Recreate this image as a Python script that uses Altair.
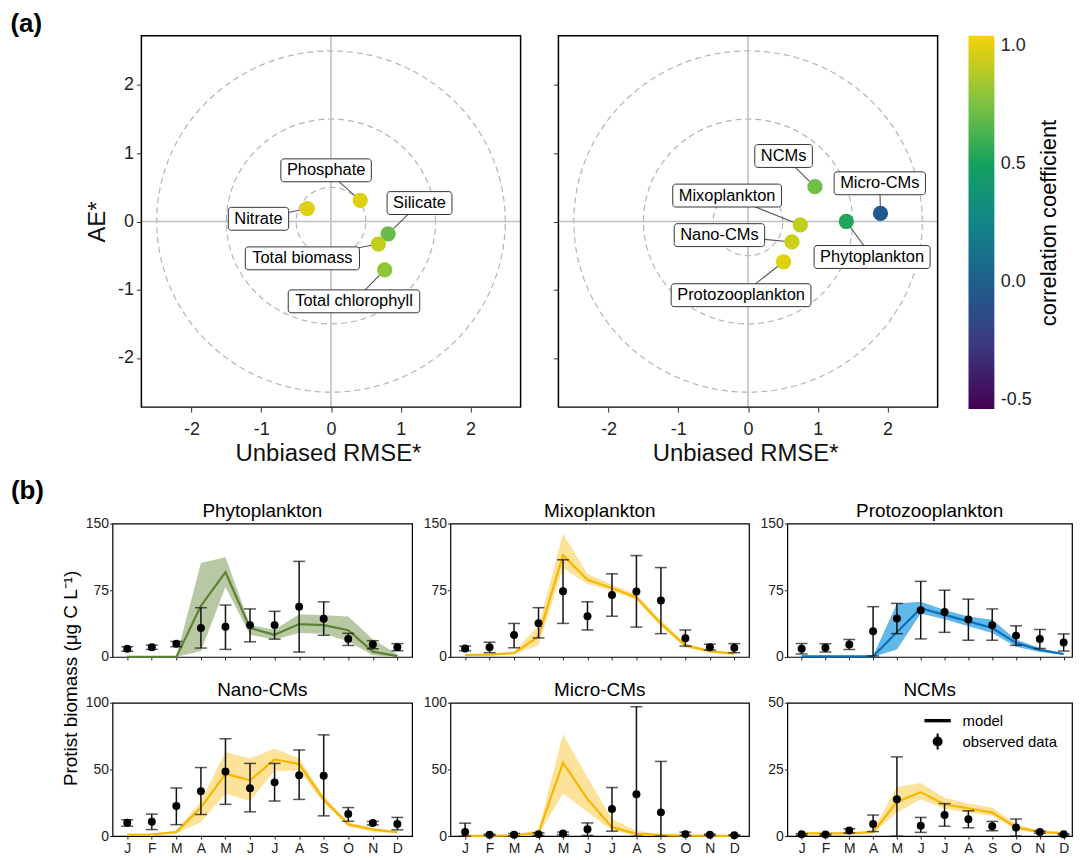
import altair as alt
import numpy as np
import pandas as pd

FONT = "Liberation Sans"

# ------------------------------------------------------------------ (a) data
a_left_names = ["Nitrate", "Phosphate", "Silicate", "Total biomass", "Total chlorophyll"]
a_left_rmse = [-0.34, 0.42, 0.82, 0.68, 0.77]
a_left_ae = [0.19, 0.31, -0.18, -0.33, -0.71]
a_left_corr = [0.99, 0.99, 0.70, 0.92, 0.80]
a_left_lab_x = [-1.04, -0.07, 1.27, -0.41, 0.33]
a_left_lab_y = [0.04, 0.75, 0.27, -0.54, -1.17]

a_right_names = ["NCMs", "Micro-CMs", "Mixoplankton", "Phytoplankton", "Nano-CMs", "Protozooplankton"]
a_right_rmse = [0.96, 1.90, 0.75, 1.41, 0.63, 0.51]
a_right_ae = [0.51, 0.12, -0.05, 0.00, -0.30, -0.59]
a_right_corr = [0.72, -0.05, 0.92, 0.52, 0.94, 0.99]
a_right_lab_x = [0.51, 1.89, -0.30, 1.78, -0.41, -0.10]
a_right_lab_y = [0.96, 0.56, 0.38, -0.52, -0.20, -1.08]

ring_radii = [0.5, 1.5, 2.5]
a_ticks = [-2, -1, 0, 1, 2]
corr_ticks = [-0.5, 0.0, 0.5, 1.0]
corr_stops = [-0.54, -0.25, 0.0, 0.25, 0.5, 0.75, 1.04]
corr_colors = ["#440154", "#3a3c80", "#1e5f8c", "#118589", "#14a25f", "#7cc242", "#f6d208"]

# ------------------------------------------------------------------ (b) data
months = ["J", "F", "M", "A", "M", "J", "J", "A", "S", "O", "N", "D"]
month_num = list(range(1, 13))

phyto_obs = [9.2, 11.0, 14.8, 32.5, 34.0, 35.8, 35.8, 56.5, 42.9, 20.3, 14.0, 11.0]
phyto_hi = [11.4, 13.3, 17.4, 55.4, 58.4, 54.0, 51.3, 107.5, 62.0, 26.6, 18.3, 15.0]
phyto_lo = [6.3, 8.5, 11.5, 10.0, 8.5, 17.0, 20.0, 5.5, 24.4, 12.9, 9.2, 7.0]
phyto_mod = [0, 0, 0, 57.6, 95.3, 32.5, 25.0, 37.0, 35.8, 30.0, 6.0, 1.0]
phyto_mhi = [0, 0, 0, 105.6, 112.0, 36.0, 30.7, 48.0, 47.0, 45.4, 20.0, 3.0]
phyto_mlo = [0, 0, 0, 6.6, 78.7, 25.0, 19.6, 27.0, 26.0, 17.7, 2.0, 0]

mixo_obs = [9.6, 11.0, 24.8, 38.0, 73.9, 45.8, 69.8, 73.5, 63.5, 21.0, 11.0, 10.3]
mixo_hi = [12.2, 16.6, 37.7, 55.4, 109.3, 62.0, 93.5, 114.0, 100.5, 30.3, 14.4, 15.0]
mixo_lo = [7.0, 4.8, 10.3, 21.4, 37.7, 30.3, 45.8, 33.6, 26.2, 12.2, 7.8, 4.8]
mixo_mod = [2.2, 2.6, 4.4, 23.0, 114.5, 86.8, 77.6, 66.9, 37.3, 13.0, 6.3, 3.7]
mixo_mhi = [3.0, 3.5, 6.0, 35.0, 138.5, 93.5, 81.6, 70.2, 41.7, 15.1, 8.0, 4.5]
mixo_mlo = [1.5, 2.0, 3.0, 13.0, 100.0, 82.4, 74.3, 64.0, 34.4, 10.7, 5.0, 3.0]

proto_obs = [9.2, 10.3, 14.0, 28.8, 43.2, 52.5, 50.6, 42.1, 35.8, 24.0, 20.3, 16.3]
proto_hi = [15.1, 14.8, 19.6, 56.5, 60.2, 85.0, 75.0, 65.0, 54.0, 35.0, 31.0, 25.9]
proto_lo = [3.3, 5.5, 8.5, 1.1, 26.2, 20.3, 27.7, 18.8, 18.8, 13.0, 9.6, 6.6]
proto_mod = [0.7, 0.7, 0.7, 0.7, 27.7, 54.7, 47.3, 40.0, 32.5, 15.9, 7.8, 3.3]
proto_mhi = [1.0, 1.0, 1.0, 1.0, 60.2, 62.0, 52.8, 45.4, 41.7, 19.6, 10.0, 4.0]
proto_mlo = [0.3, 0.3, 0.3, 0.3, 8.5, 49.0, 42.5, 34.4, 27.0, 11.5, 5.5, 2.5]

nano_obs = [10.0, 10.8, 22.6, 33.7, 48.4, 35.9, 40.3, 45.7, 45.2, 16.5, 9.8, 9.1]
nano_hi = [12.3, 16.5, 36.1, 51.4, 73.0, 54.5, 54.5, 64.6, 75.9, 21.4, 11.0, 14.0]
nano_lo = [7.4, 4.9, 8.6, 16.2, 23.8, 18.2, 26.3, 27.5, 15.2, 11.1, 8.4, 4.7]
nano_mod = [1.0, 1.2, 3.0, 21.4, 46.7, 41.8, 57.5, 54.0, 27.5, 8.8, 5.0, 3.0]
nano_mhi = [1.5, 2.0, 4.0, 26.3, 63.0, 58.2, 65.6, 58.2, 30.0, 10.3, 6.0, 3.5]
nano_mlo = [0.5, 0.5, 2.0, 10.3, 32.0, 26.3, 49.0, 49.0, 25.0, 7.4, 3.0, 2.0]

micro_obs = [3.0, 1.0, 1.0, 1.5, 2.0, 5.2, 20.3, 31.4, 17.8, 1.5, 1.0, 0.7]
micro_hi = [9.7, 1.5, 2.0, 2.5, 3.0, 9.9, 36.4, 97.0, 56.0, 3.0, 1.5, 1.0]
micro_lo = [0.0, 0.5, 0.0, 0.5, 1.0, 0.5, 3.7, 0.0, 0.0, 0.5, 0.5, 0.3]
micro_mod = [0.2, 0.2, 0.5, 2.5, 55.0, 27.7, 6.7, 1.7, 0.7, 0.3, 0.2, 0.2]
micro_mhi = [0.3, 0.3, 1.0, 4.5, 76.5, 44.0, 12.9, 4.0, 1.5, 0.5, 0.3, 0.3]
micro_mlo = [0.1, 0.1, 0.2, 1.0, 32.0, 18.0, 4.2, 0.5, 0.2, 0.1, 0.1, 0.1]

ncm_obs = [0.7, 0.6, 2.1, 4.5, 13.8, 3.9, 7.9, 6.3, 3.7, 3.2, 1.5, 0.7]
ncm_hi = [0.9, 0.8, 2.8, 7.9, 29.7, 7.0, 12.2, 9.5, 5.5, 6.4, 1.9, 0.9]
ncm_lo = [0.3, 0.3, 1.2, 1.7, 0.0, 1.4, 3.7, 3.1, 2.0, 0.0, 1.1, 0.4]
ncm_mod = [1.0, 1.0, 1.0, 1.5, 12.8, 16.5, 11.9, 10.4, 8.8, 3.3, 1.5, 1.1]
ncm_mhi = [1.2, 1.2, 1.2, 2.2, 18.4, 19.9, 14.4, 12.2, 10.7, 4.5, 2.0, 1.5]
ncm_mlo = [0.8, 0.8, 0.8, 1.2, 8.8, 13.8, 10.3, 8.8, 7.6, 2.3, 1.2, 0.9]

legend_kinds = ["model", "observed data"]

# ------------------------------------------------------------------ helpers
ARIAL = {"a": 556, "b": 556, "c": 500, "d": 556, "e": 556, "f": 278, "h": 556, "i": 222,
         "k": 500, "l": 222, "m": 833, "n": 556, "o": 556, "p": 556, "r": 333, "s": 500,
         "t": 278, "x": 500, "y": 500, "z": 500, " ": 278, "-": 333, "C": 722, "M": 833,
         "N": 722, "P": 667, "S": 667, "T": 611}


def text_px(s, fs):
    return sum(ARIAL.get(ch, 556) for ch in s) / 1000.0 * fs


A_W, A_H = 381, 373
A_DOM = [-2.72, 2.72]
PXU_X = A_W / (A_DOM[1] - A_DOM[0])
PXU_Y = A_H / (A_DOM[1] - A_DOM[0])
LAB_FS = 16.5
LEFT_SHIFT = 29   # extra room so that the (a) frames sit right of the (b) frames

ring_rows = []
for r in ring_radii:
    for k, t in enumerate(np.linspace(0, 2 * np.pi, 241)):
        ring_rows.append({"ring": r, "k": k, "x": r * np.cos(t), "y": r * np.sin(t)})
ring_df = pd.DataFrame(ring_rows)
frame_df = pd.DataFrame({"x1": [A_DOM[0]], "x2": [A_DOM[1]], "y1": [A_DOM[0]], "y2": [A_DOM[1]]})

cscale = alt.Scale(domain=corr_stops, range=corr_colors, zero=False, nice=False)


def make_a(names, xs, ys, cs, lxs, lys, first):
    ext = LEFT_SHIFT if first else 0
    df = pd.DataFrame(dict(name=names, x=xs, y=ys, r=cs, lx=lxs, ly=lys))
    hw = np.array([(text_px(n, LAB_FS) / 2 + 6) / PXU_X for n in names])
    hh = 11.5 / PXU_Y
    df["bx1"] = df.lx - hw
    df["bx2"] = df.lx + hw
    df["by1"] = df.ly - hh
    df["by2"] = df.ly + hh
    xsc = alt.Scale(domain=[A_DOM[0] - ext / PXU_X, A_DOM[1]], nice=False, zero=False)
    ysc = alt.Scale(domain=A_DOM, nice=False, zero=False)
    xax = alt.Axis(values=a_ticks, labelExpr="datum.value", title="Unbiased RMSE*",
                   labelFontSize=18, titleFontSize=24, tickSize=5, labelPadding=9,
                   titlePadding=3, labelFlush=False, grid=False, domain=False,
                   titleX=ext + A_W / 2 - 3,
                   labelColor="#222", tickColor="#333", titleColor="#111", titleFontWeight="normal")
    if first:
        yax = alt.Axis(values=a_ticks, labelExpr="datum.value", title="AE*", labelFontSize=18,
                       titleFontSize=24, tickSize=5, labelPadding=3, titlePadding=8,
                       labelFlush=False, grid=False, domain=False, labelColor="#222",
                       tickColor="#333", titleColor="#111", titleFontWeight="normal",
                       offset=-ext)
    else:
        yax = alt.Axis(values=a_ticks, labels=False, title=None, tickSize=5, grid=False,
                       domain=False, tickColor="#333")

    def X(f):
        return alt.X(f"{f}:Q", scale=xsc, axis=xax)

    def Y(f):
        return alt.Y(f"{f}:Q", scale=ysc, axis=yax)

    rings = alt.Chart(ring_df).mark_line(strokeDash=[6, 4], color="#b4b4b4", strokeWidth=1.2).encode(
        x=X("x"), y=Y("y"), detail="ring:N", order="k:Q")
    zero_df = pd.DataFrame({"v": [0]})
    vline = alt.Chart(zero_df).mark_rule(color="#c0c0c0", strokeWidth=1.6).encode(x=X("v"))
    hline = alt.Chart(frame_df.assign(v=0)).mark_rule(color="#c0c0c0", strokeWidth=1.6).encode(
        y=Y("v"), x=X("x1"), x2="x2:Q")
    frame = alt.Chart(frame_df).mark_rect(fillOpacity=0, stroke="black", strokeWidth=1.5).encode(
        x=X("x1"), x2="x2:Q", y=Y("y1"), y2="y2:Q")
    base = alt.Chart(df)
    seg = base.mark_rule(color="#555", strokeWidth=1.1).encode(
        x=X("x"), y=Y("y"), x2="lx:Q", y2="ly:Q")
    pts = base.mark_circle(size=235, opacity=1).encode(
        x=X("x"), y=Y("y"), color=alt.Color("r:Q", scale=cscale, legend=None))
    boxes = base.mark_rect(fill="white", stroke="#333", strokeWidth=1, cornerRadius=3).encode(
        x=X("bx1"), x2="bx2:Q", y=Y("by1"), y2="by2:Q")
    texts = base.mark_text(fontSize=LAB_FS, font=FONT, color="black").encode(
        x=X("lx"), y=Y("ly"), text="name:N")
    return alt.layer(rings, vline, hline, seg, pts, boxes, texts, frame).properties(
        width=A_W + ext, height=A_H, view=alt.ViewBackground(stroke="transparent"))


left_a = make_a(a_left_names, a_left_rmse, a_left_ae, a_left_corr, a_left_lab_x, a_left_lab_y, True)
right_a = make_a(a_right_names, a_right_rmse, a_right_ae, a_right_corr, a_right_lab_x, a_right_lab_y, False)

# colour bar drawn as a gradient-filled rect on its own scale
c_lo, c_hi = corr_stops[0], corr_stops[-1]
cbar_df = pd.DataFrame({"lo": [c_lo], "hi": [c_hi]})
cgrad = alt.Gradient(
    gradient="linear", x1=0, x2=0, y1=1, y2=0,
    stops=[alt.GradientStop(offset=(s - c_lo) / (c_hi - c_lo), color=c)
           for s, c in zip(corr_stops, corr_colors)])
cbar = alt.Chart(cbar_df).mark_rect(color=cgrad).encode(
    y=alt.Y("lo:Q", scale=alt.Scale(domain=[c_lo, c_hi], nice=False, zero=False),
            axis=alt.Axis(orient="right", values=corr_ticks, ticks=False, domain=False,
                          grid=False, labelPadding=6, labelFontSize=18, labelColor="#222",
                          labelExpr="replace(format(datum.value, '.1f'), '\u2212', '-')",
                          labelFlush=False, title="correlation coefficient", titleAngle=270,
                          titleBaseline="top", titleFontSize=22, titleFontWeight="normal",
                          titleColor="black", titlePadding=7)),
    y2="hi:Q"
).properties(width=26, height=A_H + 2, view=alt.ViewBackground(stroke="transparent"))

top_inner = alt.hconcat(alt.hconcat(left_a, right_a, spacing=30), cbar, spacing=28)

top = alt.vconcat(top_inner, title=alt.Title("(a)", anchor="start", fontSize=26, fontWeight="bold",
                                             dx=-75, offset=-2, color="black"))

# ------------------------------------------------------------------ (b)
GREEN_L, GREEN_R = "#5b8331", "#b9c8a4"
YEL_L, YEL_R = "#f5b800", "#fde29a"
BLUE_L, BLUE_R = "#0a70b8", "#62b8e8"

panels = [
    dict(name="Phytoplankton", obs=phyto_obs, lo=phyto_lo, hi=phyto_hi, mod=phyto_mod,
         mlo=phyto_mlo, mhi=phyto_mhi, ymax=150, ticks=[0, 75, 150], lc=GREEN_L, rc=GREEN_R),
    dict(name="Mixoplankton", obs=mixo_obs, lo=mixo_lo, hi=mixo_hi, mod=mixo_mod,
         mlo=mixo_mlo, mhi=mixo_mhi, ymax=150, ticks=[0, 75, 150], lc=YEL_L, rc=YEL_R),
    dict(name="Protozooplankton", obs=proto_obs, lo=proto_lo, hi=proto_hi, mod=proto_mod,
         mlo=proto_mlo, mhi=proto_mhi, ymax=150, ticks=[0, 75, 150], lc=BLUE_L, rc=BLUE_R),
    dict(name="Nano-CMs", obs=nano_obs, lo=nano_lo, hi=nano_hi, mod=nano_mod,
         mlo=nano_mlo, mhi=nano_mhi, ymax=100, ticks=[0, 50, 100], lc=YEL_L, rc=YEL_R),
    dict(name="Micro-CMs", obs=micro_obs, lo=micro_lo, hi=micro_hi, mod=micro_mod,
         mlo=micro_mlo, mhi=micro_mhi, ymax=100, ticks=[0, 50, 100], lc=YEL_L, rc=YEL_R),
    dict(name="NCMs", obs=ncm_obs, lo=ncm_lo, hi=ncm_hi, mod=ncm_mod,
         mlo=ncm_mlo, mhi=ncm_mhi, ymax=50, ticks=[0, 25, 50], lc=YEL_L, rc=YEL_R),
]

MONTH_EXPR = "[" + ",".join(f"'{m}'" for m in months) + "][datum.value - 1]"
B_H = 134
B_WIDTHS = [301, 300, 286]
B_XMAX = [12.6, 12.6, 12.35]

shape_scale = alt.Scale(domain=legend_kinds, range=[
    "M-1.75,-0.1L1.75,-0.1L1.75,0.1L-1.75,0.1Z",
    "M0,-1.15L0,1.15M0.58,0A0.58,0.58,0,1,1,-0.58,0A0.58,0.58,0,1,1,0.58,0"
    "M0.37,0A0.37,0.37,0,1,1,-0.37,0A0.37,0.37,0,1,1,0.37,0"
    "M0.16,0A0.16,0.16,0,1,1,-0.16,0A0.16,0.16,0,1,1,0.16,0"])


def make_b(p, row, col):
    df = pd.DataFrame({"m": month_num, "obs": p["obs"], "lo": p["lo"], "hi": p["hi"],
                       "mod": p["mod"], "mlo": p["mlo"], "mhi": p["mhi"]})
    xsc = alt.Scale(domain=[0.4, B_XMAX[col]], nice=False, zero=False)
    xax = alt.Axis(values=month_num, labelExpr=MONTH_EXPR, labels=(row == 1), title=None,
                   tickSize=3, labelFontSize=14, labelPadding=2, labelColor="#222",
                   tickColor="#222", domain=False, grid=False, labelFlush=False)
    ysc = alt.Scale(domain=[0, p["ymax"]], nice=False, zero=False)
    yax = alt.Axis(values=p["ticks"], title="0", titleOpacity=0, titleX=-30, titleY=60,
                   titleAngle=0, titleAlign="left", titleBaseline="middle", titleFontSize=10,
                   tickSize=3, labelPadding=1, labelFontSize=14, labelColor="#222",
                   tickColor="#222", domain=False, grid=False, labelFlush=False)
    X = alt.X("m:Q", scale=xsc, axis=xax)

    def Y(f):
        return alt.Y(f"{f}:Q", scale=ysc, axis=yax)

    base = alt.Chart(df)
    ribbon = base.mark_area(color=p["rc"], opacity=1).encode(x=X, y=Y("mlo"), y2="mhi:Q")
    line = base.mark_line(color=p["lc"], strokeWidth=2.2).encode(x=X, y=Y("mod"))
    err = base.mark_errorbar(ticks=True, size=12, thickness=1.5, color="#111").encode(
        x=X, y=Y("lo"), y2="hi:Q")
    pts = base.mark_circle(size=64, color="black", opacity=1).encode(x=X, y=Y("obs"))
    layers = [ribbon, line, err, pts]
    if p["name"] == "NCMs":
        key = base.transform_calculate(kind="'observed data'").mark_point(
            opacity=0, filled=False, color="black", size=10, strokeWidth=2).encode(
            x=X, y=Y("obs"),
            shape=alt.Shape("kind:N", scale=shape_scale, legend=alt.Legend(
                title=None, orient="none", legendX=143, legendY=10, symbolSize=196,
                symbolStrokeWidth=2, labelFontSize=15, labelColor="black",
                labelOffset=17, padding=0, rowPadding=0)))
        layers.append(key)
    return alt.layer(*layers).properties(
        width=B_WIDTHS[col], height=B_H,
        title=alt.Title(p["name"], fontSize=19, fontWeight="normal", offset=-4, color="black"),
        view=alt.ViewBackground(stroke="black", strokeWidth=1.2))


b_charts = [make_b(p, i // 3, i % 3) for i, p in enumerate(panels)]
grid = alt.concat(*b_charts, columns=3, spacing={"row": 15, "column": 6.5},
                  title=alt.Title("Protist biomass (\u03bcg C L\u207b\u00b9)", orient="left",
                                  anchor="middle", fontSize=19, fontWeight="normal",
                                  offset=1.5, color="black")
                  ).resolve_scale(shape="independent").resolve_legend(shape="independent")

bottom = alt.vconcat(grid, title=alt.Title("(b)", anchor="start", fontSize=26, fontWeight="bold",
                                           dx=-51, offset=-3, color="black"))

chart = alt.vconcat(top, bottom, spacing=11).properties(
    padding={"left": 2, "top": 0, "right": 0, "bottom": 0}
).configure(font=FONT).configure_view(stroke="black")

chart.save("out.html", embed_options={"renderer": "svg", "actions": False})
